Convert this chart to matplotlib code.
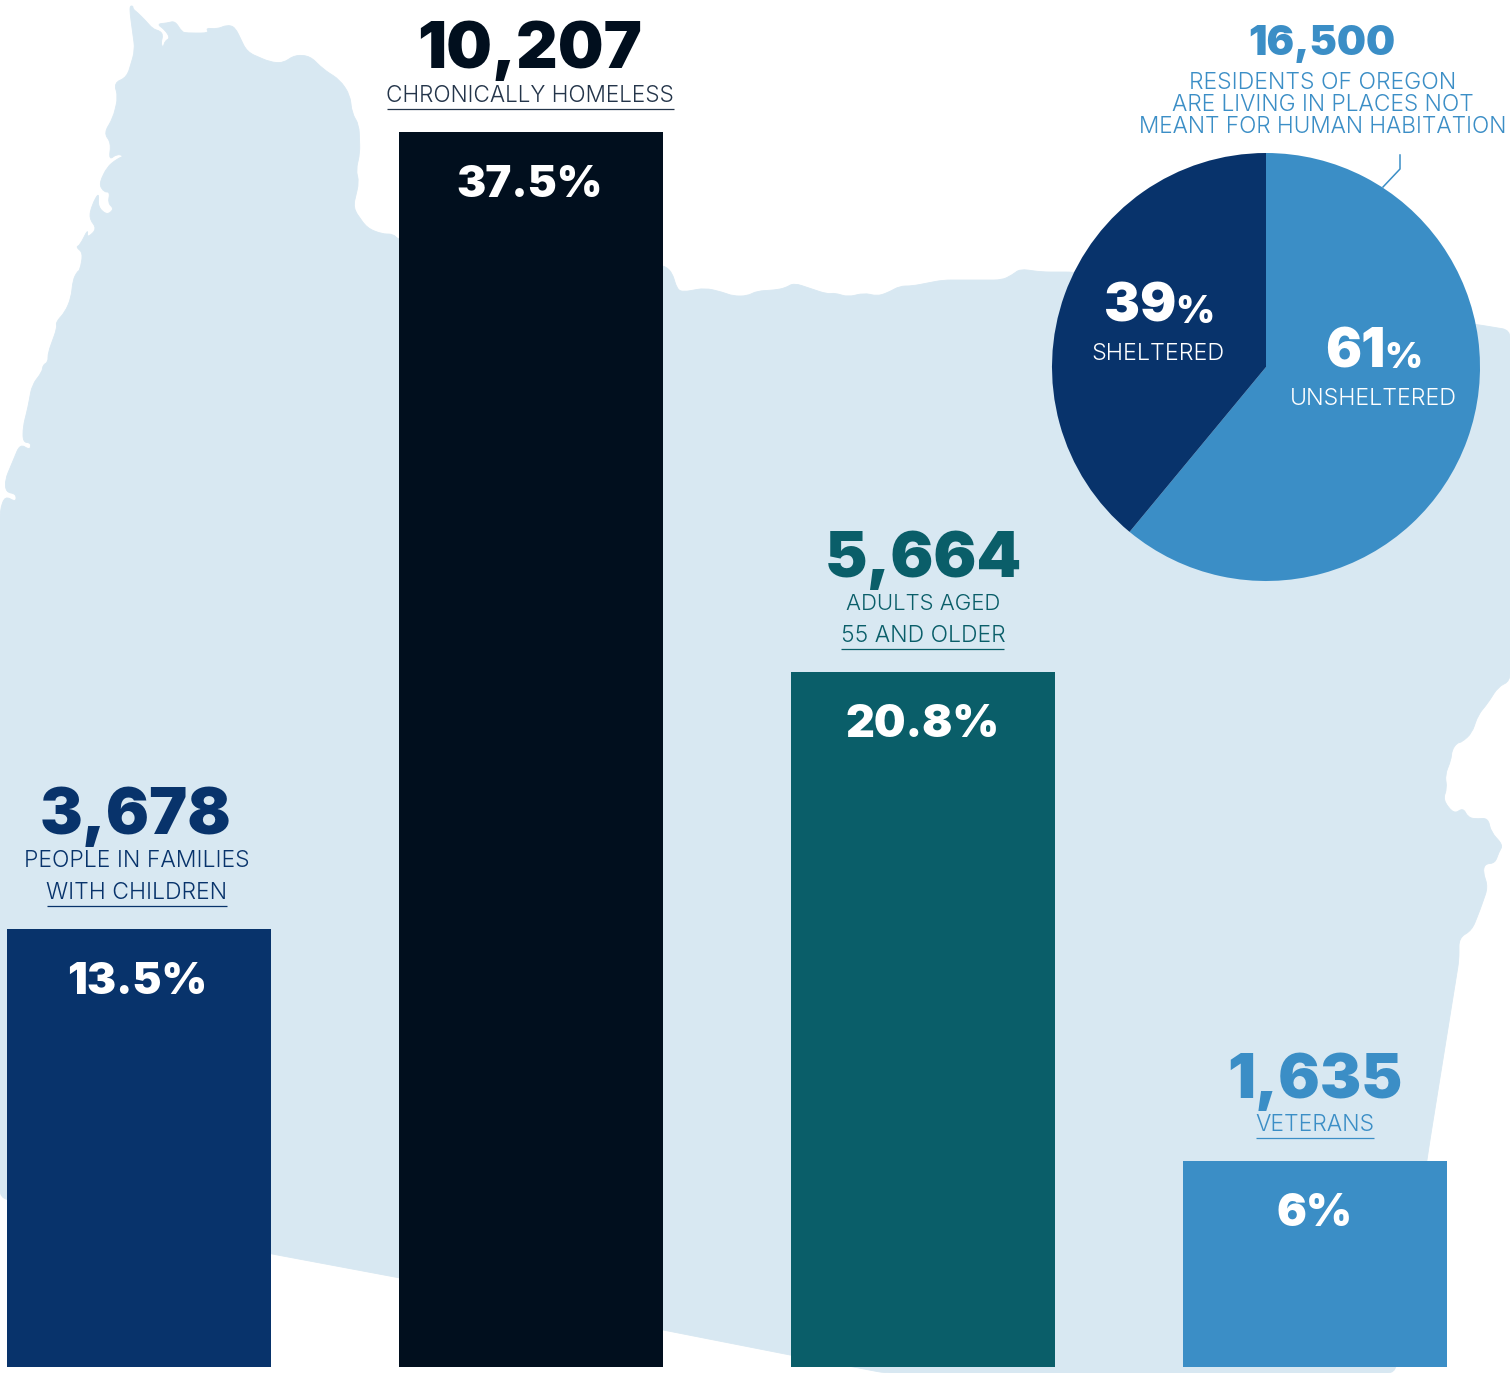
import matplotlib
matplotlib.use("Agg")
import matplotlib.pyplot as plt
import numpy as np
from matplotlib.patches import PathPatch
from matplotlib.path import Path

W, H = 1510, 1373
categories = ["PEOPLE IN FAMILIES\nWITH CHILDREN", "CHRONICALLY HOMELESS", "ADULTS AGED\n55 AND OLDER", "VETERANS"]
counts = ["3,678", "10,207", "5,664", "1,635"]
pct_labels = ["13.5%", "37.5%", "20.8%", "6%"]
bar_heights = [13.3, 37.5, 21.1, 6.25]  # drawn heights
bar_colors = ["#08336B", "#010F1E", "#0A5E69", "#3B8EC6"]
pie_values = [61, 39]
pie_colors = ["#3B8EC6", "#08336B"]
MAP = "#D8E8F2"
outline = [(130,6),(133,6),(133,9),(138,13),(145,20),(153,29),(160,31),(163,35),(161,43),(163,48),(165,41),(170,38),
(165,30),(157,24),(167,23),(175,21),(182,32),(187,33),(209,33),(206,28),(217,29),(227,25),(235,27),(247,52),(270,62),
(283,63),(295,55),(310,56),(323,69),(340,80),(350,95),(352,113),(359,125),(360,153),(356,170),(359,182),(353,208),
(367,228),(382,234),(393,234),(399,240),(663,265),(672,272),(677,289),(683,292),(705,288),(722,292),(733,296),(747,296),
(757,291),(775,290),(785,288),(794,283),(827,294),(835,293),(848,297),(864,293),(877,296),(887,293),(900,286),(912,286),
(943,280),(1002,280),(1012,275),(1020,269),(1042,272),(1073,272),(1480,325),(1510,330),(1510,681),(1498,687),(1488,703),
(1478,715),(1472,733),(1462,742),(1457,743),(1452,750),(1451,760),(1445,775),(1447,788),(1443,800),(1454,814),(1463,808),
(1468,817),(1475,819),(1488,818),(1491,832),(1503,845),(1499,852),(1495,863),(1485,864),(1483,872),(1488,887),(1480,910),
(1472,930),(1459,938),(1459,960),(1430,1140),(1395,1373),(885,1373),(790,1355),(663,1330),(400,1278),(272,1254),(0,1198),
(0,510),(5,496),(16,502),(16,494),(6,492),(5,480),(20,444),(30,450),(31,443),(23,442),(23,427),(28,407),(32,385),(42,372),
(43,365),(48,362),(48,353),(57,328),(56,322),(65,312),(71,298),(73,280),(77,272),(80,270),(83,253),(76,247),(80,245),
(88,229),(87,238),(97,229),(89,218),(92,205),(99,192),(98,207),(107,215),(114,209),(108,203),(110,192),(104,192),(99,184),
(107,167),(117,159),(124,156),(117,154),(109,160),(111,143),(104,133),(113,118),(118,97),(114,83),(127,77),(135,50),(130,13)]

def rounded(points, r=8.0):
    """Closed path whose corners are rounded with quadratic curves."""
    pts = np.array(points, float)
    n = len(pts)
    verts, codes = [], []
    for i in range(n):
        p, a, b = pts[i], pts[i-1], pts[(i+1) % n]
        la, lb = np.hypot(*(a-p)), np.hypot(*(b-p))
        s = p + (a-p)/la*min(0.45*la, r)
        e = p + (b-p)/lb*min(0.45*lb, r)
        if i == 0:
            verts.append(s); codes.append(Path.MOVETO)
        else:
            verts.append(s); codes.append(Path.LINETO)
        verts += [p, e]; codes += [Path.CURVE3, Path.CURVE3]
    verts.append(verts[0]); codes.append(Path.CLOSEPOLY)
    return Path(verts, codes)

fig = plt.figure(figsize=(W/100, H/100), dpi=100, facecolor="white")
def px_axes(x0, y0, x1, y1, z):
    ax = fig.add_axes([x0/W, 1-y1/H, (x1-x0)/W, (y1-y0)/H], zorder=z)
    ax.patch.set_alpha(0)
    ax.axis("off")
    return ax

bg = px_axes(0, 0, W, H, 0)
bg.set_xlim(0, W); bg.set_ylim(H, 0)
bg.add_patch(PathPatch(rounded(outline), fc=MAP, ec=MAP, lw=0.6))

bars = px_axes(7, 132, 1447, 1367, 1)
bars.bar(range(4), bar_heights, width=264/392, color=bar_colors)
bars.set_xlim(-132/392, 3+132/392); bars.set_ylim(0, 37.5)

pie = px_axes(1052, 153, 1480, 581, 1)
pie.pie(pie_values, colors=pie_colors, startangle=90, counterclock=False, radius=1.0)
pie.set_xlim(-1, 1); pie.set_ylim(-1, 1)

top = px_axes(0, 0, W, H, 2)
top.set_xlim(0, W); top.set_ylim(H, 0)
rend = fig.canvas.get_renderer()

HEAVY = dict(family="Inter", weight=900)
LIGHT = dict(family="Inter", weight=300)
def t(cx, base, s, width, color, font, ha="center"):
    o = top.text(cx, base, s, color=color, ha=ha, va="baseline", fontsize=30, **font)
    o.set_fontsize(30*width/o.get_window_extent(rend).width)
    return o
def rule(x0, x1, y, color):
    top.plot([x0, x1], [y, y], color=color, lw=0.9, solid_capstyle="butt")

NAVY, BLK, TEAL, BLUE = bar_colors
t(530, 68, counts[1], 224, BLK, HEAVY)
t(530, 102, categories[1], 288, "#24354A", LIGHT); rule(387, 674, 109, "#24354A")
t(530, 197, pct_labels[1], 146, "white", HEAVY)
t(136, 834, counts[0], 191, NAVY, HEAVY)
a, b = categories[0].split("\n")
t(137, 867, a, 225, NAVY, LIGHT); t(137, 899, b, 181, NAVY, LIGHT); rule(47, 227, 906, NAVY)
t(137, 994, pct_labels[0], 140, "white", HEAVY)
t(923, 577, counts[2], 197, TEAL, HEAVY)
a, b = categories[2].split("\n")
t(923, 610, a, 155, TEAL, LIGHT); t(923, 642, b, 164, TEAL, LIGHT); rule(841, 1004, 649, TEAL)
t(923, 737, pct_labels[2], 154, "white", HEAVY)
t(1315, 1098, counts[3], 175, BLUE, HEAVY)
t(1315, 1131, categories[3], 119, BLUE, LIGHT); rule(1256, 1374, 1138, BLUE)
t(1315, 1226, pct_labels[3], 76, "white", HEAVY)
t(1322, 55, "16,500", 147, BLUE, HEAVY)
t(1323, 89, "RESIDENTS OF OREGON", 267, BLUE, LIGHT)
t(1323, 111, "ARE LIVING IN PLACES NOT", 302, BLUE, LIGHT)
t(1323, 133, "MEANT FOR HUMAN HABITATION", 368, BLUE, LIGHT)
top.plot([1400, 1400, 1383], [155, 169, 187], color=BLUE, lw=1.1)
t(1104, 322, "39", 72, "white", HEAVY, ha="left")
t(1175, 323, "%", 39, "white", HEAVY, ha="left")
t(1158, 360, "SHELTERED", 133, "white", LIGHT)
t(1325, 367, "61", 60, "white", HEAVY, ha="left")
t(1384, 368, "%", 38, "white", HEAVY, ha="left")
t(1373, 405, "UNSHELTERED", 167, "white", LIGHT)

fig.savefig("out.png", dpi=100)
